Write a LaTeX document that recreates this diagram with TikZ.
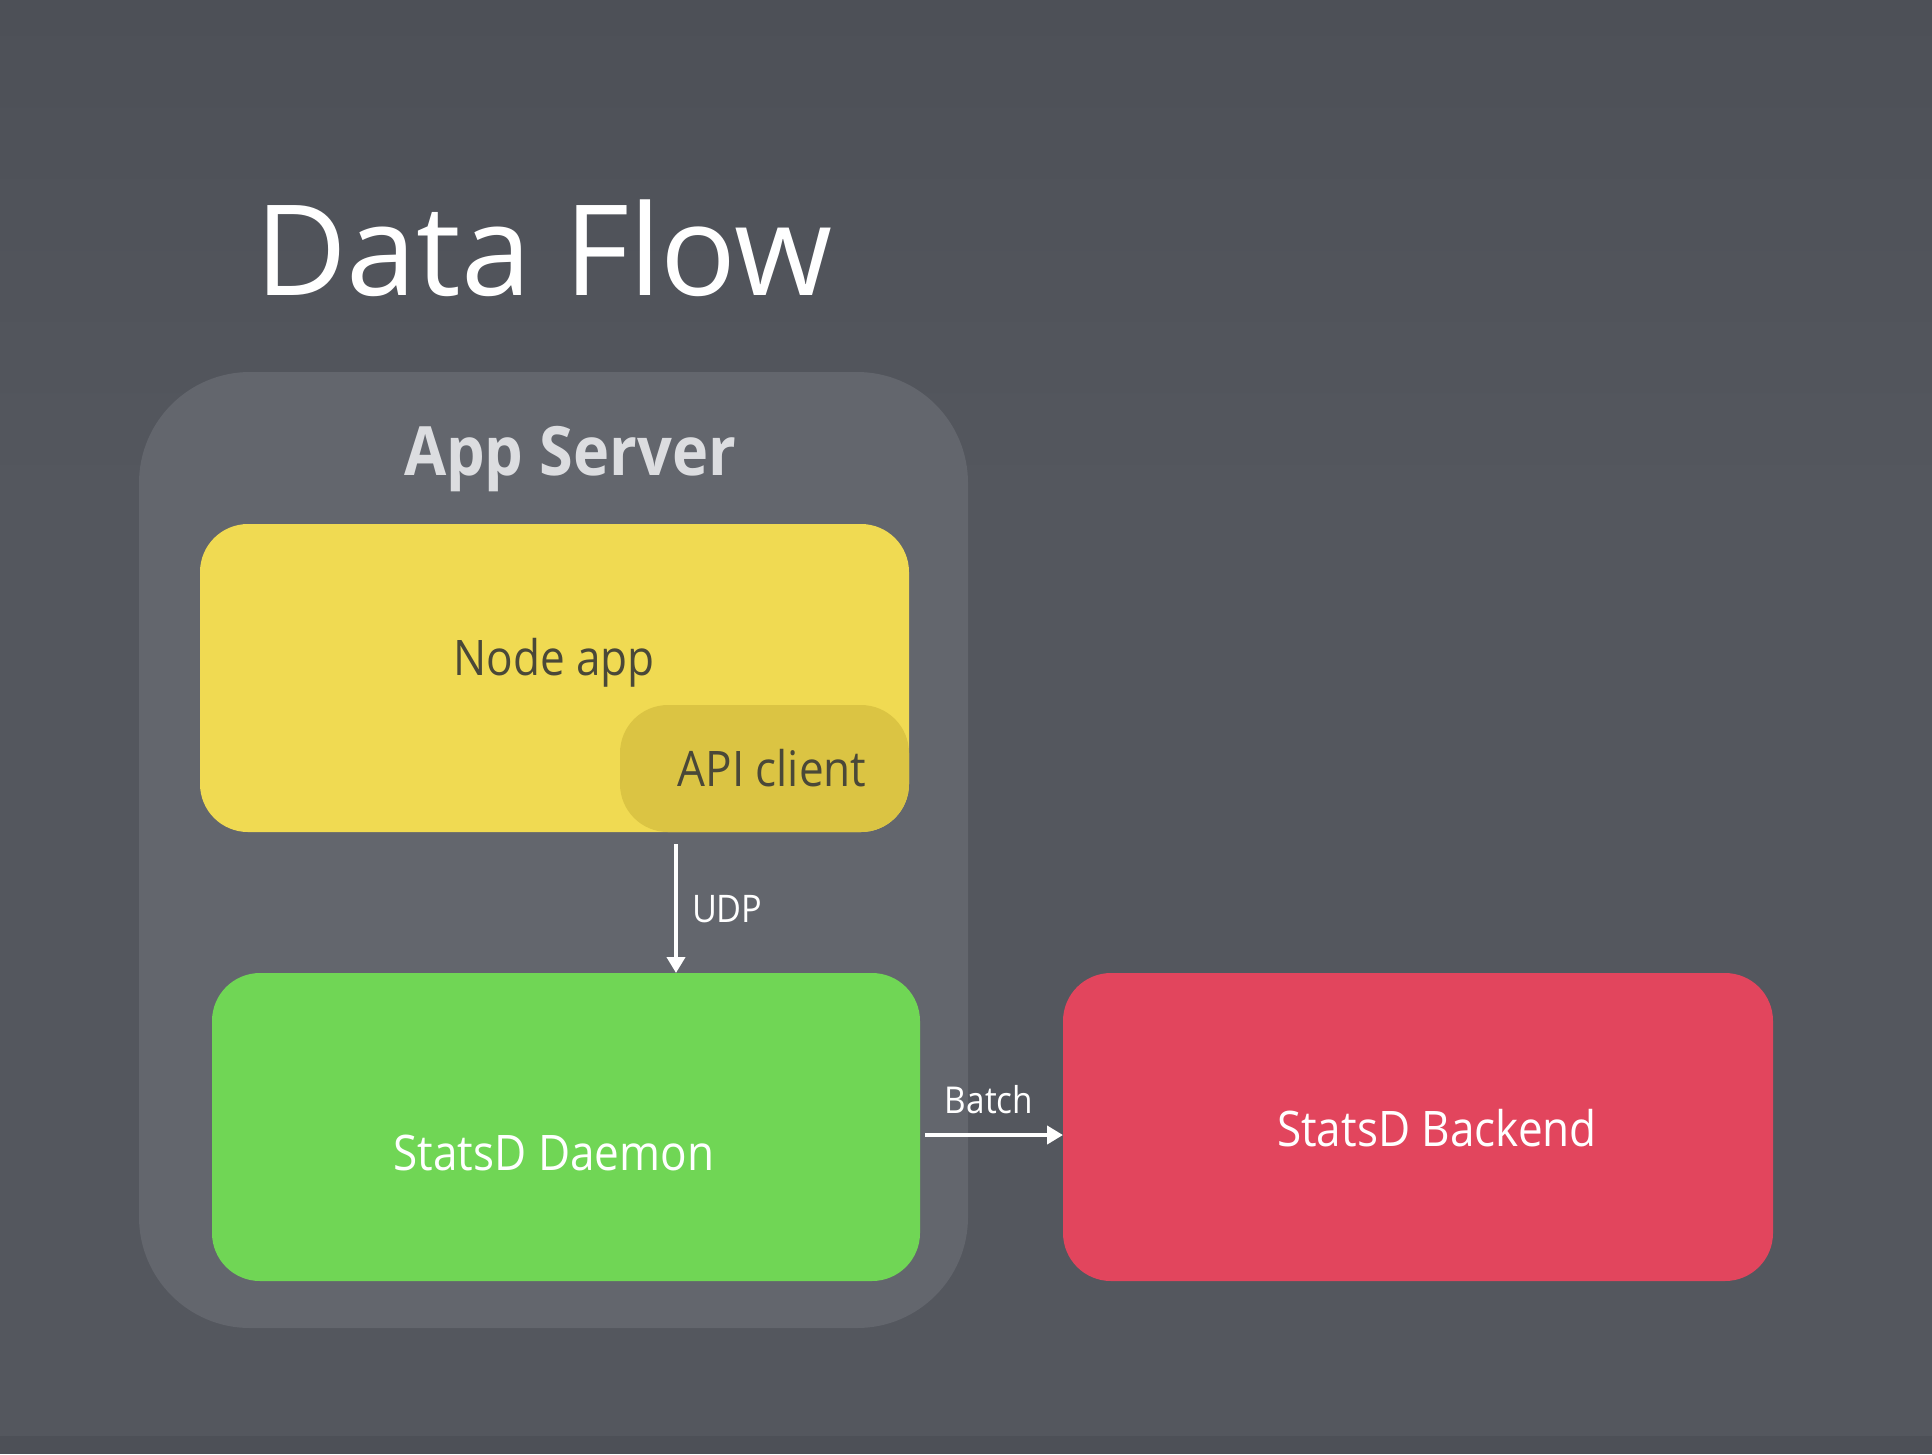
\documentclass[tikz,border=0pt]{standalone}
\usepackage{fontspec}
\setmainfont{Open Sans}
\newfontfamily\condfont{Open Sans}[FakeStretch=0.9]
\newfontfamily\condbold{Open Sans Bold}[FakeStretch=0.9]
\usetikzlibrary{arrows.meta}
\definecolor{bgc}{HTML}{54575E}
\definecolor{bgtop}{HTML}{4D5057}
\definecolor{contc}{HTML}{63666D}
\definecolor{yelc}{HTML}{F0DA52}
\definecolor{apic}{HTML}{DBC443}
\definecolor{grnc}{HTML}{70D655}
\definecolor{redc}{HTML}{E2455D}
\definecolor{darktxt}{HTML}{4A4838}
\definecolor{lighttxt}{HTML}{DCDDE0}
\tikzset{
  boxnode/.style={draw=none, inner sep=0pt, outer sep=0pt},
  txt/.style={inner sep=0pt, outer sep=0pt, anchor=base},
  arr/.style={draw=white, line width=4pt, -{Triangle[width=18pt,length=16pt]}}
}
\begin{document}
\begin{tikzpicture}[x=1pt,y=-1pt]
\useasboundingbox (0,0) rectangle (1932,1454);
\fill[bgc] (0,0) rectangle (1932,1454);
\shade[top color=bgtop, bottom color=bgc] (0,0) rectangle (1932,500);
\fill[bgtop] (0,1436) rectangle (1932,1454);

\node[txt, anchor=base west, text=white, font=\fontsize{126}{132}\selectfont] (title) at (255,295) {Data Flow};

\node[boxnode, fill=contc, minimum width=829, minimum height=956, rounded corners=111] (server) at (553.5,850) {};
\node[txt, text=lighttxt, font=\condbold\fontsize{68}{72}\selectfont] (servertitle) at (570,475) {App Server};

\node[boxnode, fill=yelc, minimum width=709, minimum height=308, rounded corners=48] (nodeapp) at (554.5,678) {};
\node[txt, text=darktxt, font=\condfont\fontsize{49}{54}\selectfont] (nodeapptxt) at (554,675) {Node app};

\node[boxnode, fill=apic, minimum width=289, minimum height=127, rounded corners=48] (apiclient) at (764.5,768.5) {};
\node[txt, text=darktxt, font=\condfont\fontsize{49}{54}\selectfont] (apitxt) at (772,786) {API client};

\node[boxnode, fill=grnc, minimum width=708, minimum height=308, rounded corners=48] (daemon) at (566,1127) {};
\node[txt, text=white, font=\condfont\fontsize{49}{54}\selectfont] (daemontxt) at (554,1170) {StatsD Daemon};

\node[boxnode, fill=redc, minimum width=710, minimum height=308, rounded corners=48] (backend) at (1418,1127) {};
\node[txt, text=white, font=\condfont\fontsize{49}{54}\selectfont] (backendtxt) at (1437,1146) {StatsD Backend};

\coordinate (ux) at (676,0);
\coordinate (by) at (0,1135);
\draw[arr] (ux |- apiclient.south) ++(0,12) -- (ux |- daemon.north);
\draw[arr] (daemon.east |- by) ++(5,0) -- (backend.west |- by);

\node[txt, anchor=base west, text=white, font=\condfont\fontsize{38}{42}\selectfont] (udp) at (692,922) {UDP};
\node[txt, text=white, font=\condfont\fontsize{37}{40}\selectfont] (batch) at (989,1113) {Batch};
\end{tikzpicture}
\end{document}
